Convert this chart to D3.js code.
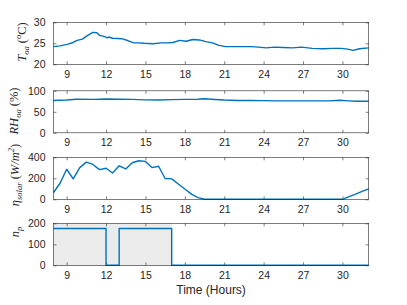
<!DOCTYPE html>
<html>
<head>
<meta charset="utf-8">
<script src="https://cdn.jsdelivr.net/npm/d3@7"></script>
<style>
  body { margin: 0; background: #fff; }
  svg { display: block; }
</style>
</head>
<body>
<div id="chart"></div>
<script>
// outdoor air temperature (°C)
const tempTime = [8, 8.5, 9.1, 9.5, 9.8, 10.2, 10.6, 11.0, 11.3, 11.5, 11.9, 12.1, 12.2, 12.5, 13.2, 13.7, 14.1, 14.5, 14.9, 15.6, 16.2, 16.6, 17.1, 17.6, 18.1, 18.6, 19.1, 19.6, 20.1, 20.6, 21.1, 22.1, 23.1, 23.6, 24.2, 24.8, 25.5, 26.2, 26.9, 27.7, 28.5, 29.3, 29.9, 30.4, 30.8, 31.3, 32];
const tempVal  = [24.2, 24.4, 24.8, 25.2, 25.7, 26.0, 26.9, 27.6, 27.5, 26.9, 26.6, 26.3, 26.5, 26.2, 26.1, 25.6, 25.1, 25.1, 25.0, 24.9, 25.1, 25.1, 25.2, 25.7, 25.5, 25.9, 25.8, 25.4, 25.1, 24.5, 24.2, 24.2, 24.2, 24.1, 23.9, 24.1, 24.0, 23.9, 24.1, 23.8, 23.7, 23.8, 23.8, 23.6, 23.3, 23.7, 23.9];

// outdoor relative humidity (%)
const rhTime = [8, 9, 9.7, 11, 12, 13, 14, 15, 16, 17, 18, 19, 19.5, 20, 21, 22, 23, 24, 25, 27, 29, 29.8, 30.5, 31, 32];
const rhVal  = [77, 78, 80, 79.5, 80.5, 80, 79.5, 78.5, 78, 79, 79.5, 80, 81, 80, 78, 77, 77, 76.5, 76, 76, 76, 77.5, 76, 75, 75];

// solar radiation (W/m^2)
const solarTime = [8, 8.5, 9, 9.5, 10, 10.5, 11, 11.5, 12, 12.5, 13, 13.5, 14, 14.5, 15, 15.5, 16, 16.5, 17, 17.5, 18, 18.5, 19, 19.5, 30, 30.5, 31, 31.5, 32];
const solarVal  = [65, 153, 286, 195, 302, 354, 332, 283, 296, 250, 319, 289, 348, 367, 361, 302, 315, 198, 195, 146, 98, 49, 16, 0, 0, 25, 50, 76, 100];

// number of people (step)
const npTime = [8, 12, 12, 13, 13, 17, 17, 32];
const npVal  = [175, 175, 0, 0, 175, 175, 0, 0];

// occupied period shading
const occupied = [8, 17];

const xTicks = [9, 12, 15, 18, 21, 24, 27, 30];

const W = 407, H = 305;
const left = 53.5, right = 368.7, ph = 42;
const blue = "#0072BD", axisCol = "#262626";

const svg = d3.select("#chart").append("svg")
  .attr("width", W).attr("height", H)
  .style("font-family", "'Liberation Sans', Arial, sans-serif");

const x = d3.scaleLinear().domain([8, 32]).range([left, right]);

const panels = [
  { top: 22.3, domain: [20, 30], ticks: [20, 25, 30], t: tempTime, v: tempVal },
  { top: 90.8, domain: [0, 100], ticks: [0, 50, 100], t: rhTime, v: rhVal },
  { top: 157.3, domain: [0, 400], ticks: [0, 200, 400], t: solarTime, v: solarVal },
  { top: 223.3, domain: [0, 200], ticks: [0, 100, 200], t: npTime, v: npVal, shade: true }
];

panels.forEach(p => {
  const y = d3.scaleLinear().domain(p.domain).range([p.top + ph, p.top]);
  const g = svg.append("g");

  g.append("rect").attr("x", left).attr("y", p.top)
    .attr("width", right - left).attr("height", ph).attr("fill", "#fff");

  if (p.shade) {
    g.append("rect")
      .attr("x", x(occupied[0])).attr("y", p.top)
      .attr("width", x(occupied[1]) - x(occupied[0])).attr("height", ph)
      .attr("fill", "#ebebeb");
  }

  // bottom / top axes with inward ticks
  const xb = g.append("g").attr("transform", `translate(0,${p.top + ph})`)
    .call(d3.axisBottom(x).tickValues(xTicks).tickSizeInner(-3).tickSizeOuter(0).tickPadding(6));
  const xt = g.append("g").attr("transform", `translate(0,${p.top})`)
    .call(d3.axisTop(x).tickValues(xTicks).tickSizeInner(-3).tickSizeOuter(0).tickFormat(""));
  const yl = g.append("g").attr("transform", `translate(${left},0)`)
    .call(d3.axisLeft(y).tickValues(p.ticks).tickSizeInner(-3).tickSizeOuter(0).tickPadding(8));
  const yr = g.append("g").attr("transform", `translate(${right},0)`)
    .call(d3.axisRight(y).tickValues(p.ticks).tickSizeInner(-3).tickSizeOuter(0).tickFormat(""));

  [xb, xt, yl, yr].forEach(a => {
    a.selectAll(".domain").remove();
    a.selectAll("line").attr("stroke", axisCol).attr("stroke-width", 0.6);
    a.selectAll("text").attr("fill", axisCol).style("font-size", "10.5px")
      .style("font-family", "'Liberation Sans', Arial, sans-serif");
  });

  const line = d3.line().x((d, i) => x(p.t[i])).y(d => y(d));
  g.append("path").datum(p.v)
    .attr("d", line).attr("fill", "none")
    .attr("stroke", blue).attr("stroke-width", 1.4)
    .attr("stroke-linejoin", "round");

  g.append("rect").attr("x", left).attr("y", p.top)
    .attr("width", right - left).attr("height", ph)
    .attr("fill", "none").attr("stroke", axisCol).attr("stroke-width", 0.6);
});

// y labels built from pieces: [text, style] where style is "i" italic, "r" roman, "sub", "sup"
function ylabel(cx, cy, parts) {
  const t = svg.append("text")
    .attr("transform", `translate(${cx},${cy}) rotate(-90)`)
    .attr("text-anchor", "middle")
    .attr("fill", axisCol)
    .style("font-family", "'Liberation Serif', 'Times New Roman', serif")
    .style("font-size", "12.5px");
  let shift = 0;
  parts.forEach(([s, k]) => {
    const target = k === "sub" ? 3 : k === "sup" ? -5 : 0;
    const ts = t.append("tspan").text(s).attr("dy", target - shift);
    shift = target;
    if (k === "sub" || k === "sup") ts.style("font-size", "8.5px").style("font-style", "italic");
    else if (k === "i") ts.style("font-style", "italic");
  });
}

ylabel(26, 42, [["T", "i"], ["oa", "sub"], [" (", "r"], ["o", "sup"], ["C)", "r"]]);
ylabel(18, 111, [["RH", "i"], ["oa", "sub"], [" (%)", "r"]]);
ylabel(19, 175, [["η", "i"], ["solar", "sub"], [" (", "r"], ["W/m", "i"], ["2", "sup"], [")", "r"]]);
ylabel(19, 232, [["n", "i"], ["p", "sub"]]);

svg.append("text")
  .attr("x", (left + right) / 2).attr("y", 294)
  .attr("text-anchor", "middle")
  .attr("fill", axisCol)
  .style("font-size", "12px")
  .text("Time (Hours)");
</script>
</body>
</html>
